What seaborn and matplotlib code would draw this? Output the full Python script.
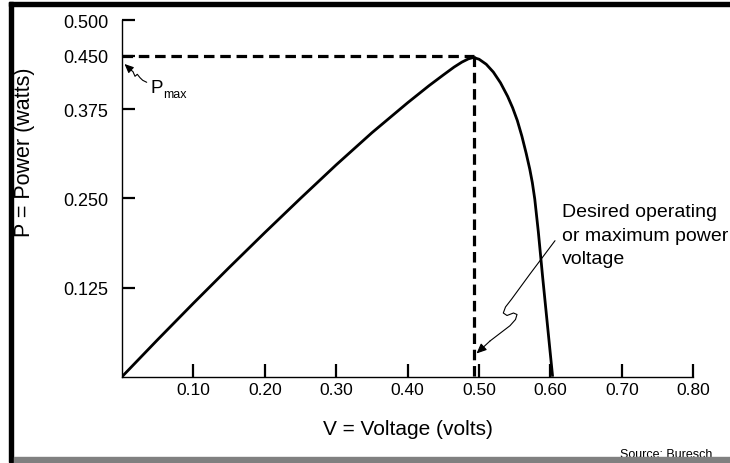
import matplotlib
matplotlib.use("Agg")
import matplotlib.pyplot as plt
import seaborn as sns
import pandas as pd
from matplotlib.patches import Rectangle

# ---- data ----
voltage = [0.000, 0.050, 0.100, 0.150, 0.200, 0.250, 0.300, 0.350, 0.400, 0.430,
           0.450, 0.465, 0.476, 0.485, 0.492, 0.500, 0.510, 0.520, 0.530, 0.540,
           0.547, 0.5536, 0.560, 0.566, 0.571, 0.5746, 0.578, 0.583, 0.589, 0.596, 0.603]
power = [0.000, 0.052, 0.103, 0.153, 0.202, 0.250, 0.297, 0.342, 0.384, 0.408,
         0.423, 0.434, 0.441, 0.4455, 0.4475, 0.445, 0.438, 0.427, 0.412, 0.393,
         0.377, 0.359, 0.337, 0.313, 0.291, 0.272, 0.249, 0.203, 0.140, 0.070, 0.000]
x_ticks = [0.10, 0.20, 0.30, 0.40, 0.50, 0.60, 0.70, 0.80]
x_tick_labels = ["0.10", "0.20", "0.30", "0.40", "0.50", "0.60", "0.70", "0.80"]
y_ticks = [0.125, 0.250, 0.375, 0.450, 0.500]
y_tick_labels = ["0.125", "0.250", "0.375", "0.450", "0.500"]
v_mpp = 0.493
p_max = 0.450
note_lines = ["Desired operating", "or maximum power", "voltage"]

sns.set_theme(style="white")
plt.rcParams['font.family'] = ['Liberation Sans', 'DejaVu Sans']

W, H = 730, 464
fig = plt.figure(figsize=(W / 100, H / 100), dpi=100)
AX_L, AX_R, AX_T, AX_B = 122.0, 693.3, 21.0, 377.7
ax = fig.add_axes([AX_L / W, 1 - AX_B / H, (AX_R - AX_L) / W, (AX_B - AX_T) / H])
ax.set_xlim(0, 0.8)
ax.set_ylim(0, 0.5)


def px(x, y):
    """pixel position of the reference -> data coordinates"""
    return ((x - AX_L) / (AX_R - AX_L) * 0.8, (AX_B - y) / (AX_B - AX_T) * 0.5)


df = pd.DataFrame({"V": voltage, "P": power})
sns.lineplot(data=df, x="V", y="P", ax=ax, color="black", lw=2.0, sort=False,
             solid_joinstyle="round", solid_capstyle="butt")

# dashed guides at the maximum power point
ax.plot([0, v_mpp], [p_max, p_max], color="black", lw=2.3, dashes=(3.3, 1.8),
        clip_on=False)
ax.plot([v_mpp, v_mpp], [p_max, 0], color="black", lw=2.3, dashes=(3.3, 1.8),
        clip_on=False)

ax.set_xticks(x_ticks)
ax.set_xticklabels(x_tick_labels)
ax.set_yticks(y_ticks)
ax.set_yticklabels(y_tick_labels)
ax.tick_params(axis="both", direction="in", length=9.5, width=1.6, colors="black",
               bottom=True, left=True)
ax.tick_params(axis="x", pad=4, labelsize=12.5)
ax.tick_params(axis="y", pad=10, labelsize=13)

for s in ["top", "right"]:
    ax.spines[s].set_visible(False)
for s in ["left", "bottom"]:
    ax.spines[s].set_color("black")
    ax.spines[s].set_linewidth(1.0)

ax.set_xlabel("V = Voltage (volts)", fontsize=15, color="black")
ax.xaxis.label.set_verticalalignment("baseline")
ax.xaxis.set_label_coords(0.5, (AX_B - 435.2) / (AX_B - AX_T))
ax.set_ylabel("P = Power (watts)", fontsize=15.5, color="black")
ax.yaxis.label.set_verticalalignment("center")
ax.yaxis.set_label_coords((24.5 - AX_L) / (AX_R - AX_L), (AX_B - 152) / (AX_B - AX_T))

# P_max label with squiggle arrow
ax.text(*px(150, 93.3), "P", fontsize=13.5, ha="left", va="baseline", color="black")
ax.text(*px(163.5, 98), "max", fontsize=9, ha="left", va="baseline", color="black")
pm_path = [(146.7, 83.3), (142.7, 81.3), (140.0, 78.7), (137.3, 75.3), (135.0, 77.3),
           (133.0, 72.7), (131.0, 71.0)]
pm = [px(*p) for p in pm_path]
ax.plot([p[0] for p in pm], [p[1] for p in pm], color="black", lw=0.8, clip_on=False)
ax.annotate("", xy=px(124.5, 65), xytext=pm[-1],
            arrowprops=dict(arrowstyle="-|>,head_length=0.45,head_width=0.2",
                            color="black", lw=0.8, shrinkA=0, shrinkB=0))

# desired operating voltage note
baselines = [217.3, 240.8, 263.5]
for line, yb in zip(note_lines, baselines):
    ax.text(*px(562, yb), line, fontsize=14, ha="left", va="baseline", color="black")
sq_path = [(555.0, 241.7), (530.0, 275.0), (511.7, 300.0), (505.5, 308.0), (503.3, 314.0),
           (507.0, 316.5), (513.5, 314.0), (517.0, 315.5), (515.5, 320.5), (510.0, 326.7),
           (490.0, 342.0)]
sq = [px(*p) for p in sq_path]
ax.plot([p[0] for p in sq], [p[1] for p in sq], color="black", lw=0.8, clip_on=False)
ax.annotate("", xy=px(476.5, 354.5), xytext=sq[-1],
            arrowprops=dict(arrowstyle="-|>,head_length=0.5,head_width=0.22",
                            color="black", lw=0.8, shrinkA=0, shrinkB=0))

# frame decorations
fig.patches.append(Rectangle((9 / W, 1 - 6.7 / H), (W - 9) / W, 3.4 / H,
                             transform=fig.transFigure, color="black", zorder=5))
fig.patches.append(Rectangle((9 / W, 1 - 463.3 / H), 3.7 / W, 460 / H,
                             transform=fig.transFigure, color="black", zorder=5))
fig.text(712 / W, 1 - 458.5 / H, "Source: Buresch", fontsize=9, ha="right",
         va="baseline", color="black")
fig.patches.append(Rectangle((14 / W, 1 - 463.5 / H), (W - 14) / W, 5.7 / H,
                             transform=fig.transFigure, color="#808080", zorder=5))

fig.savefig("out.png", dpi=100, facecolor="white")
